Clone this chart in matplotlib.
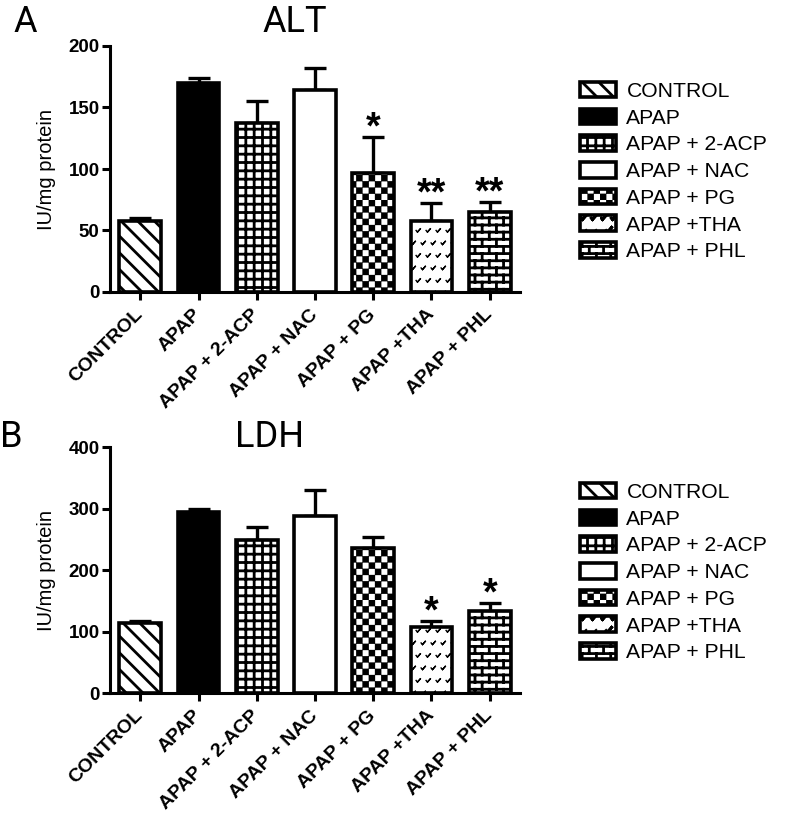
import warnings
warnings.filterwarnings('ignore')
import numpy as np
import matplotlib
matplotlib.use('Agg')
import matplotlib.pyplot as plt
import matplotlib.hatch as mhatch
from matplotlib.path import Path

# ---------------- data ----------------
groups = ['CONTROL', 'APAP', 'APAP + 2-ACP', 'APAP + NAC', 'APAP + PG', 'APAP +THA', 'APAP + PHL']
alt_mean = [58, 170, 137, 164, 97, 58, 65]
alt_err = [2, 4, 18, 18, 29, 14, 8]
alt_sig = ['', '', '', '', '*', '**', '**']
ldh_mean = [114, 294, 248, 287, 236, 108, 133]
ldh_err = [3, 5, 22, 43, 17, 9, 13]
ldh_sig = ['', '', '', '', '', '*', '*']
alt_ticks = [0, 50, 100, 150, 200]
ldh_ticks = [0, 100, 200, 300, 400]

# ---------------- custom hatch patterns ----------------
M, L, C = Path.MOVETO, Path.LINETO, Path.CLOSEPOLY


class CheckerHatch(mhatch.HatchPatternBase):
    def __init__(self, hatch, density):
        self.n = 16 * hatch.count('c')
        self.num_vertices = (self.n * self.n // 2) * 5

    def set_vertices_and_codes(self, vertices, codes):
        n = self.n
        s = 1.0 / n
        m = 0.9 / 72
        k = 0
        for i in range(n):
            for j in range(n):
                if (i + j) % 2 == 0:
                    x0, x1 = i * s + m, (i + 1) * s - m
                    y0, y1 = j * s + m, (j + 1) * s - m
                    vertices[k:k + 5] = [(x0, y0), (x1, y0), (x1, y1), (x0, y1), (x0, y0)]
                    codes[k:k + 5] = [M, L, L, L, C]
                    k += 5


class VeeHatch(mhatch.HatchPatternBase):
    def __init__(self, hatch, density):
        c = hatch.count('v')
        self.nr = 8 * c
        self.nc = 10 * c
        self.num_vertices = self.nr * self.nc * 4

    def set_vertices_and_codes(self, vertices, codes):
        w, h = 0.014, 0.016
        k = 0
        for r in range(self.nr):
            y = (r + 0.5) / self.nr
            for j in range(self.nc):
                x = (j + 0.25 + 0.5 * (r % 2)) / self.nc
                vertices[k:k + 4] = [(x - w, y + h / 2), (x, y - h / 2),
                                     (x + w, y + h / 2), (x, y - h / 2)]
                codes[k:k + 4] = [M, L, L, L]
                k += 4


class BrickHatch(mhatch.HatchPatternBase):
    def __init__(self, hatch, density):
        c = hatch.count('b')
        self.nr = 14 * c
        self.nc = 7 * c
        self.num_vertices = self.nr * 2 + self.nr * self.nc * 2 + self.nc * 2

    def set_vertices_and_codes(self, vertices, codes):
        nr, nc = self.nr, self.nc
        k = 0
        for r in range(nr):
            y = (r + 0.5) / nr
            vertices[k:k + 2] = [(0, y), (1, y)]
            codes[k:k + 2] = [M, L]
            k += 2
            for j in range(nc):
                x = (j + 0.25 + 0.5 * (r % 2)) / nc
                vertices[k:k + 2] = [(x, y), (x, y + 1.0 / nr)]
                codes[k:k + 2] = [M, L]
                k += 2
        r = nr - 1
        for j in range(nc):
            x = (j + 0.25 + 0.5 * (r % 2)) / nc
            vertices[k:k + 2] = [(x, -0.5 / nr), (x, 0.5 / nr)]
            codes[k:k + 2] = [M, L]
            k += 2


mhatch._hatch_types.extend([CheckerHatch, VeeHatch, BrickHatch])

# ---------------- styles ----------------
plt.rcParams['font.family'] = ['Liberation Sans', 'DejaVu Sans']
plt.rcParams['hatch.linewidth'] = 2.0
facecolors = ['white', 'black', 'white', 'white', 'white', 'white', 'white']
hatches = ['\\\\', None, '++', None, 'c', 'v', 'b']
hatch_lw = [2.0, 2.0, 2.0, 2.0, 2.0, 1.0, 2.0]

fig = plt.figure(figsize=(8.0, 8.3), dpi=100)
W, H = 800, 830


def px_axes(left, top, right, bottom):
    return fig.add_axes([left / W, 1 - bottom / H, (right - left) / W, (bottom - top) / H])


ax1 = px_axes(110, 46, 520, 292)
ax2 = px_axes(110, 447, 520, 693)


def panel(ax, means, errs, sigs, ticks):
    x = np.arange(len(groups))
    bars = ax.bar(x, means, width=0.72, color=facecolors, edgecolor='black',
                  linewidth=2.6, zorder=2)
    for p, h, hl in zip(bars.patches, hatches, hatch_lw):
        if h:
            p.set_hatch(h)
        if hasattr(p, 'set_hatch_linewidth'):
            p.set_hatch_linewidth(hl)
    ax.errorbar(x, means, yerr=[np.zeros(len(errs)), errs], fmt='none',
                ecolor='black', elinewidth=2.4, capsize=8, capthick=2.4, zorder=1)
    for xi, m, e, s in zip(x, means, errs, sigs):
        if s:
            ax.annotate(s, (xi, m + e), xytext=(0, -1), textcoords='offset points',
                        ha='center', va='baseline', fontsize=27, fontweight='bold')
    ax.set_xlim(-0.52, 6.52)
    ax.set_ylim(ticks[0], ticks[-1])
    ax.set_yticks(ticks)
    ax.set_xticks(x)
    ax.set_xticklabels(groups, rotation=45, ha='right', va='center',
                       rotation_mode='anchor', fontsize=14, fontweight='bold')
    for lab in ax.get_yticklabels():
        lab.set_fontsize(13.5)
        lab.set_fontweight('bold')
    ax.spines['top'].set_visible(False)
    ax.spines['right'].set_visible(False)
    for sp in ('left', 'bottom'):
        ax.spines[sp].set_linewidth(2.2)
    ax.tick_params(axis='both', direction='out', length=5.5, width=2.2, pad=2)
    ax.tick_params(axis='x', pad=9)
    ax.set_ylabel('IU/mg protein', fontsize=14.5, labelpad=9)
    return bars


b1 = panel(ax1, alt_mean, alt_err, alt_sig, alt_ticks)
b2 = panel(ax2, ldh_mean, ldh_err, ldh_sig, ldh_ticks)

for bars, top in ((b1, 82), (b2, 483)):
    fig.legend(bars.patches, groups, loc='upper left',
               bbox_to_anchor=(580 / W, 1 - top / H), bbox_transform=fig.transFigure,
               frameon=False, fontsize=15.2, handlelength=1.7, handleheight=0.75,
               labelspacing=0.36, handletextpad=0.5, borderpad=0, borderaxespad=0)

fig.text(13 / W, 1 - 32 / H, 'A', fontsize=26, family='Roboto', va='baseline', ha='left')
fig.text(295 / W, 1 - 32 / H, 'ALT', fontsize=26, family='Roboto', va='baseline', ha='center')
fig.text(0 / W, 1 - 447 / H, 'B', fontsize=26, family='Roboto', va='baseline', ha='left')
fig.text(270 / W, 1 - 447 / H, 'LDH', fontsize=26, family='Roboto', va='baseline', ha='center')

fig.savefig('out.png', dpi=100)
